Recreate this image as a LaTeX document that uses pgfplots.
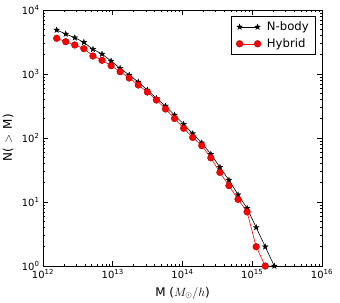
\documentclass[border=0pt]{standalone}
\usepackage{fontspec}
\setmainfont{DejaVu Sans}
\usepackage{pgfplots}
\pgfplotsset{compat=1.18}
\pgfdeclareplotmark{fstar}{%
  \pgfpathmoveto{\pgfpointpolar{90}{\pgfplotmarksize}}%
  \pgfpathlineto{\pgfpointpolar{126}{0.4\pgfplotmarksize}}%
  \pgfpathlineto{\pgfpointpolar{162}{\pgfplotmarksize}}%
  \pgfpathlineto{\pgfpointpolar{198}{0.4\pgfplotmarksize}}%
  \pgfpathlineto{\pgfpointpolar{234}{\pgfplotmarksize}}%
  \pgfpathlineto{\pgfpointpolar{270}{0.4\pgfplotmarksize}}%
  \pgfpathlineto{\pgfpointpolar{306}{\pgfplotmarksize}}%
  \pgfpathlineto{\pgfpointpolar{342}{0.4\pgfplotmarksize}}%
  \pgfpathlineto{\pgfpointpolar{18}{\pgfplotmarksize}}%
  \pgfpathlineto{\pgfpointpolar{54}{0.4\pgfplotmarksize}}%
  \pgfpathclose
  \pgfusepathqfillstroke}
\begin{document}
\begin{tikzpicture}
\begin{axis}[
  scale only axis, width=279bp, height=256bp,
  xmode=log, ymode=log, log basis x=10, log basis y=10,
  xmin=1e12, xmax=1e16, ymin=1, ymax=1e4,
  tick align=inside, tick pos=both,
  major tick length=5bp, minor tick length=2.5bp,
  every tick/.style={black, line width=0.6pt},
  axis line style={black, line width=0.7pt},
  tick label style={font=\fontsize{10}{12}\selectfont},
  xticklabel={10\textsuperscript{\pgfmathparse{int(round(\tick))}\pgfmathresult}},
  yticklabel={10\textsuperscript{\pgfmathparse{int(round(\tick))}\pgfmathresult}},
  xlabel={M ($M_\odot/h$)},
  ylabel={N(\hspace{5bp}$>$\hspace{5bp}M)},
  label style={font=\fontsize{12}{14}\selectfont},
  xlabel style={at={(axis description cs:0.5,0)}, anchor=center, yshift=-27bp},
  ylabel style={at={(axis description cs:-0.1254,0.5)}, anchor=center},
  legend style={draw=black, line width=0.6pt, at={(1,1)}, anchor=north east, xshift=-6bp, yshift=-6bp,
    font=\fontsize{11.7}{13}\selectfont, row sep=2.5bp, inner xsep=5bp, inner ysep=3.5bp, cells={anchor=west},
    /tikz/every odd column/.append style={column sep=4bp}},
  legend image code/.code={\draw[#1] plot coordinates {(0bp,0bp) (18bp,0bp)};},
]
\coordinate (ll) at (rel axis cs:0,0);
\coordinate (ur) at (rel axis cs:1,1);
\addplot[black, line width=0.6pt, mark=fstar, mark size=3bp, mark options={fill=black, line width=0.3pt}] coordinates {
(1.570e12,4870) (2.118e12,4217) (2.857e12,3690) (3.854e12,3126) (5.199e12,2432)
(7.014e12,2053) (9.462e12,1597) (1.276e13,1228) (1.722e13,964) (2.323e13,750)
(3.133e13,562) (4.227e13,417) (5.702e13,316) (7.692e13,229) (1.038e14,164)
(1.400e14,117) (1.888e14,84) (2.547e14,56) (3.436e14,35) (4.636e14,22)
(6.254e14,13) (8.436e14,8) (1.138e15,4) (1.535e15,2) (2.071e15,1)
};
\addlegendentry{N-body}
\addplot[red, line width=0.6pt, mark=*, mark size=3.4bp, mark options={fill=red, draw=red!60!black, line width=0.3pt}] coordinates {
(1.570e12,3613) (2.118e12,3199) (2.857e12,2839) (3.854e12,2485) (5.199e12,1911)
(7.014e12,1637) (9.462e12,1348) (1.276e13,1086) (1.722e13,866) (2.323e13,673)
(3.133e13,523) (4.227e13,392) (5.702e13,284) (7.692e13,202) (1.038e14,142)
(1.400e14,102) (1.888e14,76) (2.547e14,49) (3.436e14,29) (4.636e14,18)
(6.254e14,11) (8.436e14,7) (1.138e15,2) (1.535e15,1)
};
\addlegendentry{Hybrid}
\end{axis}
\pgfresetboundingbox
\path ([shift={(-43bp,-37bp)}]ll) rectangle ([shift={(18bp,10bp)}]ur);
\end{tikzpicture}
\end{document}
